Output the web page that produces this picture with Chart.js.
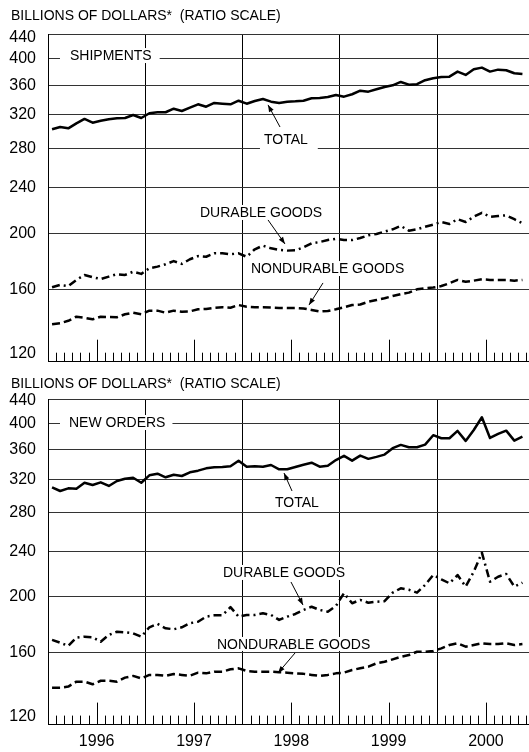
<!DOCTYPE html>
<html><head><meta charset="utf-8">
<script src="https://cdn.jsdelivr.net/npm/chart.js@4.4.1/dist/chart.umd.min.js"></script>
<style>
html,body{margin:0;padding:0;background:#fff;}
#wrap{position:relative;width:529px;height:752px;overflow:hidden;background:#fff;}
canvas{position:absolute;left:0;}
</style></head><body>
<div id="wrap">
<canvas id="c1" width="529" height="376" style="top:0px"></canvas>
<canvas id="c2" width="529" height="376" style="top:376px"></canvas>
</div>
<script>
// ---- data ----
const years = ['1996','1997','1998','1999','2000'];
const yTicks = [120,160,200,240,280,320,360,400,440];
const titleText = 'BILLIONS OF DOLLARS*  (RATIO SCALE)';

// Shipments (monthly, Jan 1996 ..)
const shipTotal = [302.2,305.0,303.4,309.5,314.9,310.3,312.7,314.5,315.7,316.1,
  319.9,316.1,322.1,323.4,323.4,328.0,325.0,329.3,333.8,330.6,
  335.6,334.6,333.8,338.6,334.6,338.2,340.9,337.3,335.6,337.3,
  337.8,338.6,341.9,342.3,343.6,346.4,344.1,347.4,352.4,351.0,
  354.3,357.6,360.0,364.8,360.9,361.5,367.3,370.3,372.2,372.6,
  380.1,375.1,383.7,386.2,380.1,383.1,382.2,377.6,376.5];
const shipDurable = [161.3,162.8,162.1,166.1,169.4,167.9,166.7,168.3,169.9,169.4,
  171.6,170.1,174.0,175.1,176.8,179.0,177.0,180.3,182.6,182.1,
  184.6,184.6,183.9,184.6,182.1,187.6,190.3,188.3,187.1,186.6,
  186.8,189.1,192.1,193.1,194.6,195.6,194.6,194.6,196.2,198.3,
  199.4,201.2,203.1,205.8,202.0,203.1,205.2,206.9,209.1,207.5,
  211.4,209.1,213.5,216.9,213.5,214.1,214.7,211.4,208.1];
const shipNondurable = [139.2,139.8,141.2,143.5,142.9,142.0,143.5,143.3,143.2,144.9,
  145.8,144.9,147.0,147.0,145.8,147.0,146.4,146.6,147.8,148.0,
  148.7,149.0,148.7,150.3,149.3,149.0,149.0,148.8,148.6,148.5,
  148.6,148.3,147.4,146.5,146.8,147.8,149.0,150.3,150.6,152.3,
  153.3,154.4,155.8,157.0,157.9,160.0,160.7,161.1,162.1,163.9,
  166.1,164.9,165.6,166.5,166.1,166.1,166.1,165.6,166.1];

// New orders
const orderTotal = [310.1,305.5,308.8,308.3,315.8,312.9,316.3,311.7,318.0,320.9,
  322.2,315.8,325.3,327.4,322.7,326.1,324.4,329.2,331.4,334.5,
  335.9,336.3,337.2,344.9,336.7,337.2,336.7,339.0,333.2,333.2,
  336.3,339.4,342.1,336.7,338.1,345.8,351.6,344.9,352.0,347.4,
  350.2,353.4,362.6,367.4,364.0,364.0,367.8,381.9,377.3,377.3,
  388.5,373.3,390.0,410.4,377.7,383.8,388.9,373.7,379.7];
const orderDurable = [168.4,166.5,164.4,169.9,170.6,170.2,167.2,171.8,174.0,173.6,
  172.9,170.6,177.1,179.5,176.4,175.7,177.1,180.0,181.1,184.8,
  185.8,185.8,192.0,184.8,186.1,186.1,187.3,186.1,182.4,184.8,
  186.8,189.8,192.3,189.8,188.5,192.9,203.0,195.0,197.6,195.4,
  196.2,196.6,203.4,207.0,205.8,203.4,209.8,218.3,214.6,211.2,
  218.3,208.4,221.2,238.7,212.5,216.8,219.2,208.4,211.7];
const orderNondurable = [139.1,139.1,139.7,142.5,142.5,141.0,143.0,143.0,142.5,144.8,
  145.8,144.4,146.4,146.4,145.8,146.9,146.4,145.9,147.7,147.3,
  148.3,148.3,149.7,150.3,148.7,148.3,148.3,148.3,148.0,147.7,
  147.3,147.0,146.4,145.8,146.4,147.3,147.7,149.3,150.3,151.3,
  153.3,154.3,155.8,157.4,158.5,160.6,160.6,161.1,162.8,165.0,
  166.1,163.9,165.0,166.1,165.6,165.6,166.1,165.0,165.6];

// ---- styling / layout ----
const FAMILY = '"Liberation Sans", Arial, sans-serif';
const xTickVals = [0,6,12,18,24,30,36,42,48,54];
const X_MAX = 59.31;

function toXY(arr){ return arr.map((v,i)=>({x:i+0.5, y:v})); }

function makeDeco(cfg){
  return {
    id:'deco',
    beforeDatasetsDraw(chart){
      const ctx = chart.ctx, xs = chart.scales.x, ys = chart.scales.y, a = chart.chartArea;
      ctx.save();
      // monthly ticks rising from the base line
      ctx.strokeStyle = '#000'; ctx.lineWidth = 1;
      for (let m = 1; m < xs.max; m++) {
        if (m % 12 === 0) continue;
        const x = Math.round(xs.getPixelForValue(m)) + 0.5;
        const len = (m % 12 === 6) ? 22 : 9;
        ctx.beginPath(); ctx.moveTo(x, a.bottom); ctx.lineTo(x, a.bottom - len); ctx.stroke();
      }
      // series labels with white backing
      ctx.font = '14px ' + FAMILY;
      ctx.textAlign = 'left'; ctx.textBaseline = 'alphabetic';
      cfg.labels.forEach(l => {
        const x = xs.getPixelForValue(l.m), y = ys.getPixelForValue(l.v);
        const w = ctx.measureText(l.text).width;
        ctx.fillStyle = '#fff';
        ctx.fillRect(x - l.pad[0], y - 10 - l.pad[2], w + l.pad[0] + l.pad[1], 10 + l.pad[2] + l.pad[3]);
        ctx.fillStyle = '#000';
        ctx.fillText(l.text, x, y);
      });
      // arrows
      ctx.strokeStyle = '#000'; ctx.fillStyle = '#000'; ctx.lineWidth = 1;
      cfg.arrows.forEach(r => {
        const x1 = xs.getPixelForValue(r.m1), y1 = ys.getPixelForValue(r.v1);
        const x2 = xs.getPixelForValue(r.m2), y2 = ys.getPixelForValue(r.v2);
        ctx.beginPath(); ctx.moveTo(x1, y1); ctx.lineTo(x2, y2); ctx.stroke();
        const ang = Math.atan2(y2 - y1, x2 - x1), L = 7, H = 2.6;
        ctx.beginPath();
        ctx.moveTo(x2, y2);
        ctx.lineTo(x2 - L*Math.cos(ang) + H*Math.sin(ang), y2 - L*Math.sin(ang) - H*Math.cos(ang));
        ctx.lineTo(x2 - L*Math.cos(ang) - H*Math.sin(ang), y2 - L*Math.sin(ang) + H*Math.cos(ang));
        ctx.closePath(); ctx.fill();
      });
      // title
      ctx.font = '14px ' + FAMILY;
      ctx.fillStyle = '#000';
      ctx.fillText(titleText, 11, cfg.titleBase);
      ctx.restore();
    }
  };
}

function makeChart(id, total, durable, nondurable, opts){
  const line = {pointRadius:0, borderColor:'#000', borderWidth:2.5, tension:0, fill:false, borderCapStyle:'butt', borderJoinStyle:'round'};
  return new Chart(document.getElementById(id), {
    type:'line',
    data:{datasets:[
      Object.assign({label:'Total', data:toXY(total)}, line),
      Object.assign({label:'Durable goods', data:toXY(durable), borderDash:[8,4,2,4]}, line),
      Object.assign({label:'Nondurable goods', data:toXY(nondurable), borderDash:[8,4]}, line)
    ]},
    options:{
      responsive:false, animation:false, devicePixelRatio:1,
      layout:{padding:{top:opts.top, left:0, right:0, bottom:0}},
      plugins:{legend:{display:false}, tooltip:{enabled:false}, title:{display:false}},
      scales:{
        x:{
          type:'linear', min:0, max:X_MAX,
          afterBuildTicks:s=>{ s.ticks = xTickVals.map(v=>({value:v})); },
          afterFit:s=>{ s.height = opts.xh; s.paddingLeft = 0; s.paddingRight = 0; },
          grid:{color:c=> (c.tick && c.tick.value % 12 === 0) ? '#000' : 'rgba(0,0,0,0)', lineWidth:1, drawTicks:false},
          border:{display:true, color:'#000', width:1},
          ticks:{display:opts.showYears, autoSkip:false, maxRotation:0, minRotation:0, padding:7, color:'#000',
            font:{family:FAMILY, size:16},
            callback:v=> (v % 12 === 6) ? years[(v-6)/12] : ''}
        },
        y:{
          type:'logarithmic', min:120, max:440,
          afterBuildTicks:s=>{ s.ticks = yTicks.map(v=>({value:v})); },
          afterFit:s=>{ s.width = 48; s.paddingTop = 0; s.paddingBottom = 0; },
          grid:{color:'#333', lineWidth:1, drawTicks:false},
          border:{display:true, color:'#000', width:1},
          ticks:{padding:12, color:'#000',
            font:c=>{ const v = c.tick ? c.tick.value : 0;
              return {family:FAMILY, size:16, lineHeight: v===120 ? '16px' : (v===440 ? opts.l440 : 1.2)}; },
            callback:v=> v===120 ? ['120',''] : (v===440 ? ['','440'] : String(v))}
        }
      }
    },
    plugins:[makeDeco(opts.deco)]
  });
}

makeChart('c1', shipTotal, shipDurable, shipNondurable, {
  top:34.8, xh:14.3, showYears:false, l440:'6px',
  deco:{
    titleBase:20,
    labels:[
      {text:'SHIPMENTS', m:2.71, v:398, pad:[10,8,2,3]},
      {text:'TOTAL', m:26.63, v:285.1, pad:[4,10,2,6]},
      {text:'DURABLE GOODS', m:18.74, v:213.3, pad:[3,3,2,3]},
      {text:'NONDURABLE GOODS', m:25.03, v:170.7, pad:[3,3,2,3]}
    ],
    arrows:[
      {m1:28.61, v1:305.0, m2:27.13, v2:333.0},
      {m1:27.13, v1:210.8, m2:29.22, v2:191.6},
      {m1:33.91, v1:164.1, m2:32.18, v2:150.3}
    ]
  }
});

makeChart('c2', orderTotal, orderDurable, orderNondurable, {
  top:23.8, xh:27.4, showYears:true, l440:'2px',
  deco:{
    titleBase:12,
    labels:[
      {text:'NEW ORDERS', m:2.59, v:394.6, pad:[9,7,2,3]},
      {text:'TOTAL', m:27.99, v:286.6, pad:[3,3,2,2]},
      {text:'DURABLE GOODS', m:21.58, v:216.6, pad:[3,3,2,3]},
      {text:'NONDURABLE GOODS', m:20.84, v:162.4, pad:[3,3,2,2]}
    ],
    arrows:[
      {m1:30.09, v1:305.5, m2:29.1, v2:328.3},
      {m1:29.96, v1:212.3, m2:31.44, v2:193.6},
      {m1:30.46, v1:159.8, m2:28.36, v2:147.5}
    ]
  }
});
</script>
</body></html>
